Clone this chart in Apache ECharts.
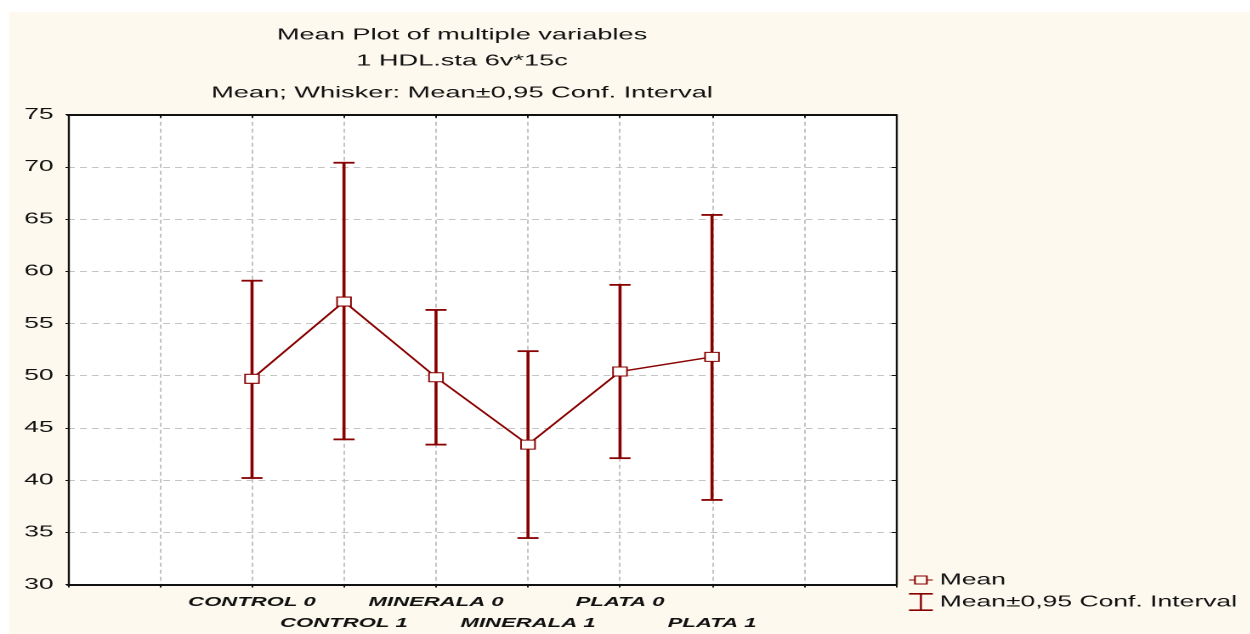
<!DOCTYPE html>
<html>
<head>
<meta charset="utf-8">
<title>Mean Plot of multiple variables</title>
<script src="https://cdn.jsdelivr.net/npm/echarts@6/dist/echarts.min.js"></script>
<style>
  html, body { margin: 0; padding: 0; background: #ffffff; overflow: hidden; }
  #chart { position: absolute; left: 0; top: 0; height: 634px; transform-origin: 0 0; }
</style>
</head>
<body>
<div id="chart"></div>
<script>
// ---- data ----
const categories = ['CONTROL 0', 'CONTROL 1', 'MINERALA 0', 'MINERALA 1', 'PLATA 0', 'PLATA 1'];
const means      = [49.7, 57.1, 49.85, 43.4, 50.4, 51.8];
const lowerCI    = [40.2, 43.9, 43.4, 34.45, 42.1, 38.1];
const upperCI    = [59.1, 70.4, 56.3, 52.35, 58.7, 65.4];
const yTicks     = [30, 35, 40, 45, 50, 55, 60, 65, 70, 75];
const titleLines = ['Mean Plot of multiple variables', '1 HDL.sta 6v*15c', 'Mean; Whisker: Mean\u00b10,95 Conf. Interval'];
const meanName   = 'Mean';
const ciName     = 'Mean\u00b10,95 Conf. Interval';

// ---- layout ----
// The whole drawing is laid out narrow and then widened horizontally.
const SX = 1.7;
const W = 1250 / SX;
const H = 634;
const X_SLOTS = 9;        // x axis spans 0..9, variables sit on slots 2..7
const X_OFFSET = 2;
const COLOR = '#880000';
const TEXT = '#111111';
const FONT = '"Liberation Sans", Arial, sans-serif';

const el = document.getElementById('chart');
el.style.width = W + 'px';
el.style.transform = 'scaleX(' + SX + ')';

const chart = echarts.init(el, null, { renderer: 'canvas', devicePixelRatio: 2 });

const meanData = means.map((m, i) => [i + X_OFFSET, m]);
const ciData = categories.map((c, i) => [i + X_OFFSET, lowerCI[i], upperCI[i]]);

const gridLeft = 68 / SX, gridRight = 896 / SX;
const gridTop = 114.7, gridBottom = 586;

const dashed = { color: '#c4c4c4', width: 1, type: [4, 3] };

const option = {
  backgroundColor: '#ffffff',
  animation: false,
  graphic: [
    { type: 'rect', z: -10, silent: true,
      shape: { x: 9 / SX, y: 12, width: W, height: H },
      style: { fill: '#fdf9ee' } },
    ...titleLines.map((t, i) => ({
      type: 'text', z: 10, silent: true,
      x: 462 / SX, y: [35, 61, 93][i],
      style: { text: t, fill: TEXT, font: '16px ' + FONT, align: 'center', verticalAlign: 'middle' }
    }))
  ],
  grid: {
    left: gridLeft, top: gridTop,
    width: gridRight - gridLeft, height: gridBottom - gridTop,
    show: true, backgroundColor: '#ffffff', borderWidth: 0
  },
  legend: [
    {
      left: 909 / SX, top: 572, orient: 'vertical', padding: 0,
      itemWidth: 14, itemHeight: 9, itemGap: 4, selectedMode: false,
      textStyle: { color: TEXT, fontSize: 15.6, fontFamily: FONT, padding: [0, 0, 0, -1] },
      data: [{
        name: meanName,
        icon: 'path://M0,4h3v-4h8v4h3v1h-3v4h-8v-4h-3z M4,1v7h6v-7z',
        itemStyle: { color: COLOR, borderWidth: 0 }
      }]
    },
    {
      left: 909 / SX, top: 593, orient: 'vertical', padding: 0,
      itemWidth: 14, itemHeight: 18, selectedMode: false,
      textStyle: { color: TEXT, fontSize: 15.6, fontFamily: FONT, padding: [0, 0, 0, -1] },
      data: [{
        name: ciName,
        icon: 'path://M0,0h14v1.6h-6.4v14.8h6.4v1.6h-14v-1.6h6.4v-14.8h-6.4z',
        itemStyle: { color: COLOR, borderWidth: 0 }
      }]
    }
  ],
  xAxis: [
    {
      type: 'value', position: 'bottom', min: 0, max: X_SLOTS, interval: 1,
      axisLine: { show: true, onZero: false, lineStyle: { color: TEXT, width: 2 } },
      axisTick: { show: true, inside: false, length: 3, lineStyle: { color: TEXT, width: 1 } },
      splitLine: { show: true, lineStyle: dashed },
      axisLabel: {
        margin: 7.5, color: TEXT, fontSize: 13, fontWeight: 'bold', fontStyle: 'italic',
        fontFamily: FONT, lineHeight: 21,
        formatter: v => {
          const i = v - X_OFFSET;
          if (!Number.isInteger(i) || i < 0 || i >= categories.length) return '';
          return i % 2 ? '\n' + categories[i] : categories[i];
        }
      }
    },
    {
      type: 'value', position: 'top', min: 0, max: X_SLOTS, interval: 1,
      axisLine: { show: true, onZero: false, lineStyle: { color: TEXT, width: 2 } },
      axisTick: { show: true, inside: true, length: 3, lineStyle: { color: TEXT, width: 1 } },
      splitLine: { show: false }, axisLabel: { show: false }
    }
  ],
  yAxis: [
    {
      type: 'value', position: 'left', min: yTicks[0], max: yTicks[yTicks.length - 1],
      interval: yTicks[1] - yTicks[0],
      axisLine: { show: true, onZero: false, lineStyle: { color: TEXT, width: 1.2 } },
      axisTick: { show: true, inside: false, length: 1.5, lineStyle: { color: TEXT, width: 1 } },
      splitLine: { show: true, lineStyle: dashed },
      axisLabel: { margin: 8.5, color: TEXT, fontSize: 15.5, fontFamily: FONT }
    },
    {
      type: 'value', position: 'right', min: yTicks[0], max: yTicks[yTicks.length - 1],
      interval: yTicks[1] - yTicks[0],
      axisLine: { show: true, onZero: false, lineStyle: { color: TEXT, width: 1.2 } },
      axisTick: { show: true, inside: true, length: 2.5, lineStyle: { color: TEXT, width: 1 } },
      splitLine: { show: false }, axisLabel: { show: false }
    }
  ],
  series: [
    {
      name: ciName, type: 'custom', z: 2, xAxisIndex: 0, yAxisIndex: 0,
      color: COLOR,
      data: ciData,
      encode: { x: 0, y: [1, 2] },
      renderItem: (params, api) => {
        const x = api.value(0);
        const pLo = api.coord([x, api.value(1)]);
        const pHi = api.coord([x, api.value(2)]);
        const half = 6.2;
        const style = { stroke: COLOR, lineWidth: 1.8 };
        return {
          type: 'group',
          children: [
            { type: 'line', shape: { x1: pHi[0], y1: pHi[1], x2: pLo[0], y2: pLo[1] }, style },
            { type: 'line', shape: { x1: pHi[0] - half, y1: pHi[1], x2: pHi[0] + half, y2: pHi[1] }, style },
            { type: 'line', shape: { x1: pLo[0] - half, y1: pLo[1], x2: pLo[0] + half, y2: pLo[1] }, style }
          ]
        };
      }
    },
    {
      name: meanName, type: 'line', z: 3, xAxisIndex: 0, yAxisIndex: 0,
      data: meanData,
      symbol: 'rect', symbolSize: [8.2, 9], showAllSymbol: true,
      lineStyle: { color: COLOR, width: 1.4 },
      itemStyle: { color: '#ffffff', borderColor: COLOR, borderWidth: 1 },
      emphasis: { disabled: true }
    }
  ]
};

chart.setOption(option);
</script>
</body>
</html>
